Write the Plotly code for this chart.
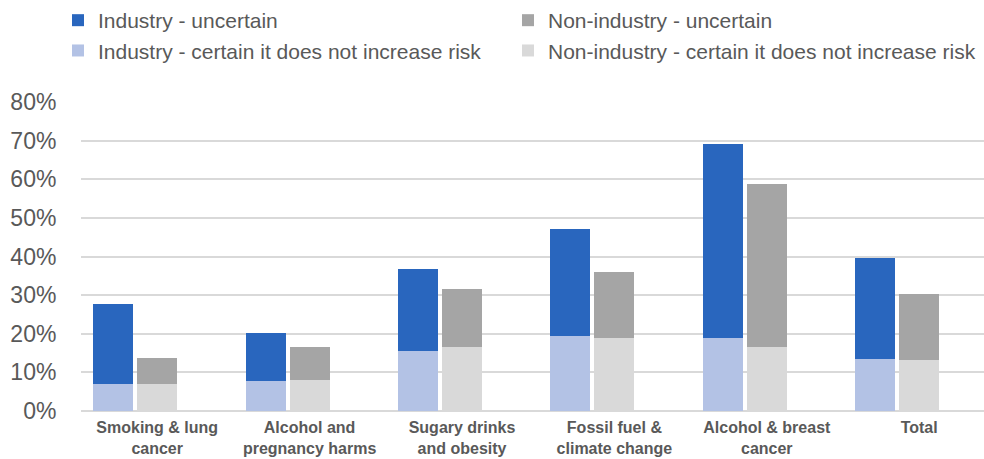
import plotly.graph_objects as go

categories = [
    "Smoking & lung<br>cancer",
    "Alcohol and<br>pregnancy harms",
    "Sugary drinks<br>and obesity",
    "Fossil fuel &<br>climate change",
    "Alcohol & breast<br>cancer",
    "Total",
]

# Percent of respondents (stacked: certain at the bottom, uncertain on top)
industry_certain = [7.1, 7.7, 15.6, 19.4, 18.8, 13.4]
industry_uncertain = [20.7, 12.5, 21.2, 27.8, 50.3, 26.2]
nonindustry_certain = [7.1, 8.0, 16.5, 19.0, 16.6, 13.1]
nonindustry_uncertain = [6.5, 8.7, 15.0, 17.1, 42.1, 17.2]

y_ticks = [0, 10, 20, 30, 40, 50, 60, 70, 80]

C_IND_UNC = "#2966BE"
C_IND_CER = "#B3C2E5"
C_NON_UNC = "#A5A5A5"
C_NON_CER = "#D9D9D9"

idx = list(range(len(categories)))
ind_x = [i - 0.289 for i in idx]
non_x = [i for i in idx]
bar_w = 0.262

fig = go.Figure()
common = dict(width=bar_w, marker_line_width=0, hoverinfo="skip")
fig.add_bar(x=ind_x, y=industry_certain, name="Industry - certain it does not increase risk",
            marker_color=C_IND_CER, legend="legend", legendrank=2, **common)
fig.add_bar(x=non_x, y=nonindustry_certain, name="Non-industry - certain it does not increase risk",
            marker_color=C_NON_CER, legend="legend2", legendrank=2, **common)
fig.add_bar(x=ind_x, y=industry_uncertain, name="Industry - uncertain",
            marker_color=C_IND_UNC, legend="legend", legendrank=1, **common)
fig.add_bar(x=non_x, y=nonindustry_uncertain, name="Non-industry - uncertain",
            marker_color=C_NON_UNC, legend="legend2", legendrank=1, **common)

W, H = 984, 459
left = 81
cat_px = 152.4
plot_w = W - left

legend_style = dict(
    orientation="v", y=1.33, xanchor="left", yanchor="top",
    font=dict(size=21, color="#595959"),
    traceorder="normal", bgcolor="rgba(0,0,0,0)",
)

fig.update_layout(
    width=W, height=H,
    barmode="stack",
    plot_bgcolor="white", paper_bgcolor="white",
    margin=dict(l=left, r=0, t=102, b=48),
    font=dict(family="Liberation Sans, Arial, sans-serif", color="#595959"),
    legend=dict(x=(58 - left) / plot_w, **legend_style),
    legend2=dict(x=(508 - left) / plot_w, **legend_style),
    showlegend=True,
)

fig.update_xaxes(
    range=[-0.5, -0.5 + plot_w / cat_px],
    tickmode="array", tickvals=idx, ticktext=[f"<b>{c}</b>" for c in categories],
    tickfont=dict(size=16, color="#595959"),
    ticks="outside", ticklen=2, tickcolor="rgba(0,0,0,0)",
    showgrid=False, zeroline=False, showline=False,
    automargin=False,
)
fig.update_yaxes(
    range=[0, 80],
    tickmode="array", tickvals=y_ticks, ticktext=[f"{v}%" for v in y_ticks],
    tickfont=dict(size=23, color="#595959"),
    ticks="outside", ticklen=19, tickcolor="rgba(0,0,0,0)",
    showgrid=True, gridcolor="#D9D9D9", gridwidth=1.5,
    zeroline=True, zerolinecolor="#D9D9D9", zerolinewidth=2,
    showline=False, automargin=False,
)

fig.write_html("out.html")
